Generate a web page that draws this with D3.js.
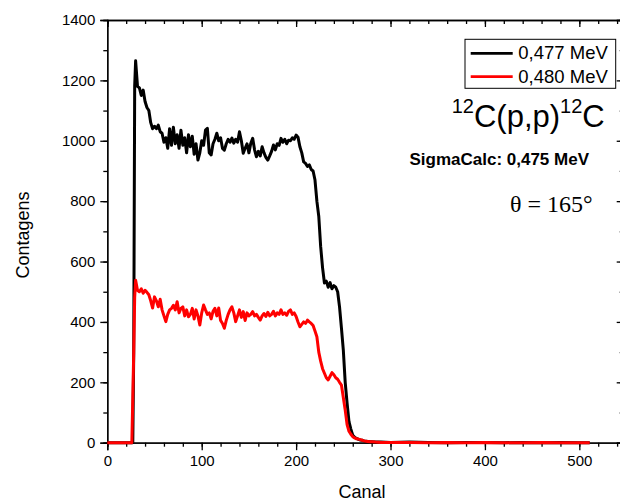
<!DOCTYPE html>
<html>
<head>
<meta charset="utf-8">
<script src="https://cdn.jsdelivr.net/npm/d3@7"></script>
<style>
  html, body { margin: 0; padding: 0; background: #fff; }
  svg { display: block; font-family: "Liberation Sans", Arial, sans-serif; }
</style>
</head>
<body>
<svg id="chart" width="620" height="503"></svg>
<script>
// ---- data ----
const channels = [0, 26, 27, 28, 29, 30,
  32, 34, 36, 38, 40, 42, 44, 46, 48, 50, 52, 54, 56, 58,
  60, 62, 64, 66, 68, 70, 72, 74, 76, 78, 80, 82, 84, 86, 88, 90, 92, 94, 96, 98,
  100, 102, 104, 106, 108, 110, 112, 114, 116, 118, 120, 122, 124, 126, 128, 130, 132, 134, 136, 138,
  140, 142, 144, 146, 148, 150, 152, 154, 156, 158, 160, 162, 164, 166, 168, 170, 172, 174, 176, 178,
  180, 182, 184, 186, 188, 190, 192, 194, 196, 198, 200, 202, 204, 206, 208, 210, 212, 214, 216, 218,
  220, 222, 224, 226, 228, 230, 232, 234, 236, 238, 240, 242, 244, 246, 248, 250, 252, 254, 256, 258,
  260, 262, 264, 266, 268, 270, 272, 274, 276, 278, 280, 284, 290, 300, 320, 340, 360, 380, 400,
  420, 440, 460, 480, 500, 511];

const black477 = [0, 0, 0, 300, 1180, 1265,
  1180, 1175, 1150, 1168, 1130, 1110, 1100, 1060, 1040, 1048, 1040, 1052, 1030, 1025,
  995, 1010, 975, 1040, 985, 1045, 990, 1020, 975, 1035, 985, 1010, 960, 1020, 980, 1015, 955, 990, 936, 960,
  1000, 985, 1035, 1041, 960, 953, 990, 1005, 1025, 1000, 1010, 975, 969, 990, 1005, 995, 1009, 992, 1005, 995,
  1030, 1000, 959, 975, 990, 960, 992, 1008, 970, 947, 965, 950, 980, 960, 945, 936, 950, 965, 986, 970,
  990, 985, 1008, 995, 1005, 990, 1002, 1000, 1010, 1005, 1019, 1012, 980, 960, 930, 925, 915, 920, 905, 900,
  870, 800, 750, 650, 580, 529, 535, 515, 530, 510, 520, 515, 500, 450, 380, 307, 200, 131, 70, 45,
  25, 18, 14, 11, 9, 8, 6, 5, 4, 3, 3, 2, 2, 1, 2, 1, 0, 1, 1,
  0, 1, 0, 1, 0, 0];

const red480 = [0, 0, 150, 300, 480, 538,
  505, 500, 510, 495, 505, 498, 490, 470, 446, 483, 470, 450, 475, 440,
  420, 401, 425, 440, 445, 455, 440, 467, 430, 445, 450, 420, 440, 417, 425, 445, 410, 440, 420, 390,
  430, 456, 440, 425, 430, 410, 435, 445, 420, 446, 405, 395, 379, 405, 425, 440, 450, 430, 401, 420,
  440, 415, 434, 405, 430, 420, 425, 434, 420, 425, 415, 406, 420, 428, 418, 432, 420, 425, 435, 420,
  430, 425, 440, 425, 430, 422, 435, 440, 425, 430, 418, 400, 384, 392, 400, 395, 406, 400, 395, 388,
  370, 351, 300, 270, 245, 230, 215, 208, 220, 232, 225, 215, 210, 200, 191, 150, 108, 60, 38, 28,
  20, 16, 13, 12, 10, 8, 6, 5, 4, 3, 3, 2, 1, 1, 1, 0, 1, 0, 1,
  0, 0, 1, 0, 0, 0];

const xTicks = [0, 100, 200, 300, 400, 500];
const yTicks = [0, 200, 400, 600, 800, 1000, 1200, 1400];
const legendLabels = ["0,477 MeV", "0,480 MeV"];
const seriesColors = ["#000000", "#ff0000"];

// ---- chart ----
const svg = d3.select("#chart");
const pL = 107.3, pR = 623.7, pT = 20, pB = 442.7;

const x = d3.scaleLinear().domain([0, 547]).range([pL, pR]);
const y = d3.scaleLinear().domain([0, 1400]).range([pB, pT]);

const xMinor = d3.range(0, 547, 20);
const yMinor = d3.range(0, 1401, 100);

function styleAxis(g) {
  g.selectAll(".domain").attr("stroke", "#000").attr("stroke-width", 1.3);
  g.selectAll(".tick line").attr("stroke", "#000").attr("stroke-width", 1.3);
  g.selectAll("text").attr("fill", "#000").style("font-size", "15px")
    .style("font-family", "'Liberation Sans', Arial, sans-serif");
}

// minor ticks
svg.append("g").attr("transform", `translate(0,${pB})`)
  .call(d3.axisBottom(x).tickValues(xMinor).tickSize(4).tickFormat(""))
  .call(styleAxis);
svg.append("g").attr("transform", `translate(0,${pT})`)
  .call(d3.axisTop(x).tickValues(xMinor).tickSize(-4).tickFormat(""))
  .call(styleAxis);
svg.append("g").attr("transform", `translate(${pL},0)`)
  .call(d3.axisLeft(y).tickValues(yMinor).tickSize(4).tickFormat(""))
  .call(styleAxis);
svg.append("g").attr("transform", `translate(${pR},0)`)
  .call(d3.axisRight(y).tickValues(yMinor).tickSize(-4).tickFormat(""))
  .call(styleAxis);

// major ticks
svg.append("g").attr("transform", `translate(0,${pB})`)
  .call(d3.axisBottom(x).tickValues(xTicks).tickSize(7.5).tickPadding(5).tickFormat(d3.format("d")))
  .call(styleAxis);
svg.append("g").attr("transform", `translate(0,${pT})`)
  .call(d3.axisTop(x).tickValues(xTicks).tickSize(-7).tickFormat(""))
  .call(styleAxis);
svg.append("g").attr("transform", `translate(${pL},0)`)
  .call(d3.axisLeft(y).tickValues(yTicks).tickSize(7).tickPadding(5).tickFormat(d3.format("d")))
  .call(styleAxis);
svg.append("g").attr("transform", `translate(${pR},0)`)
  .call(d3.axisRight(y).tickValues(yTicks).tickSize(-7).tickFormat(""))
  .call(styleAxis);

// series
const series = [black477, red480];
const line = d3.line().x((d, i) => x(channels[i])).y(d => y(d));
series.forEach((vals, k) => {
  svg.append("path")
    .datum(vals)
    .attr("fill", "none")
    .attr("stroke", seriesColors[k])
    .attr("stroke-width", 3)
    .attr("stroke-linejoin", "round")
    .attr("d", line);
});

// axis titles
svg.append("text").attr("x", 362).attr("y", 498).attr("text-anchor", "middle")
  .style("font-size", "18px").text("Canal");
svg.append("text").attr("transform", "translate(28.5,235) rotate(-90)")
  .attr("text-anchor", "middle").style("font-size", "18px").text("Contagens");

// legend
const lg = svg.append("g");
lg.append("rect").attr("x", 465).attr("y", 39.3).attr("width", 150.7).attr("height", 49)
  .attr("fill", "#fff").attr("stroke", "#000").attr("stroke-width", 1);
legendLabels.forEach((lab, i) => {
  const yy = 53.3 + i * 23.4;
  lg.append("line").attr("x1", 470.7).attr("x2", 512.7).attr("y1", yy).attr("y2", yy)
    .attr("stroke", seriesColors[i]).attr("stroke-width", 2.8);
  lg.append("text").attr("x", 518.3).attr("y", yy + 6)
    .style("font-size", "18.5px").text(lab);
});

// annotations
const f = svg.append("text").attr("x", 451.7).attr("y", 126.7).style("font-size", "31px");
f.append("tspan").style("font-size", "20px").attr("dy", -14).text("12");
f.append("tspan").attr("dy", 14).text("C(p,p)");
f.append("tspan").style("font-size", "20px").attr("dy", -14).text("12");
f.append("tspan").attr("dy", 14).text("C");

svg.append("text").attr("x", 589).attr("y", 165).attr("text-anchor", "end")
  .style("font-size", "17px").style("font-weight", "bold").text("SigmaCalc: 0,475 MeV");

svg.append("text").attr("x", 510).attr("y", 212)
  .style("font-family", "'Liberation Serif', 'Times New Roman', serif")
  .style("font-size", "24px").text("θ = 165°");
</script>
</body>
</html>
